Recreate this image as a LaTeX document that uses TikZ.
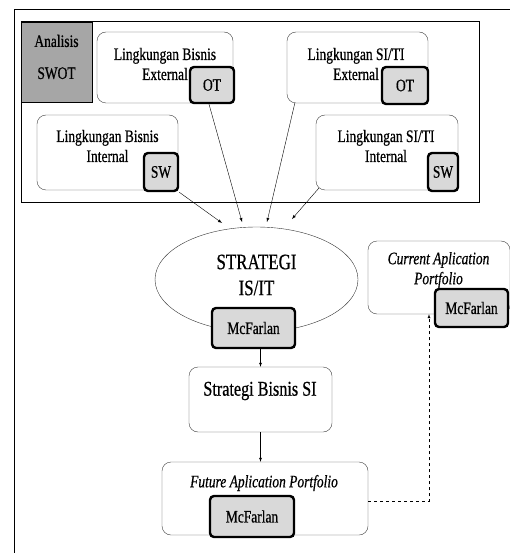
\documentclass[tikz,border=0pt]{standalone}
\usepackage{fontspec}
\setmainfont{Liberation Serif}[FakeStretch=0.77,FakeBold=0.6]
\usetikzlibrary{shapes.geometric}

\begin{document}
\begin{tikzpicture}[x=1pt,y=-1pt]
\useasboundingbox (0,0) rectangle (510,553);
%%%%%%%%%%%%%%%%%%%%%%%%%%%%%%%%%%%%%%%%%%%%%%%%%%%%%%%%%%%%%%
%FRAME/BACKGROUND
\coordinate (frameBot) at (14,553);
\coordinate (frameCorner) at (14,10);
\coordinate (frameRight) at (510,10);
\draw[line width=1pt] (frameBot) -- (frameCorner) -- (frameRight);

%%%%%%%%%%%%%%%%%%%%%%%%%%%%%%%%%%%%%%%%%%%%%%%%%%%%%%%%%%%%%%
%vertex
%vars
\tikzstyle{env}=[draw=black!75,rounded corners=9pt,fill=white,inner sep=0pt]
\tikzstyle{tag}=[draw,line width=2.4pt,rounded corners=4pt,fill=black!15,inner sep=0pt,font=\fontsize{17.5}{20}\selectfont]
\tikzstyle{txt}=[align=center,inner sep=0pt,font=\fontsize{17.5}{20}\selectfont]

%SWOT
\node[draw,line width=1pt,minimum width=458pt,minimum height=180pt,inner sep=0pt] (swot) at (250,112) {};
\node[draw,fill=black!35,minimum width=71pt,minimum height=80pt,inner sep=0pt] (analisis) at (56.5,62) {};
\node[txt,font=\fontsize{17.5}{32}\selectfont] (analisisText) at (56.5,57) {Analisis\\SWOT};

%bisnis external
\node[env,minimum width=136pt,minimum height=71pt] (extBisnis) at (165,67.5) {};
\node[txt] (extBisnisText) at (165,64) {Lingkungan Bisnis\\External};
\node[tag,minimum width=44pt,minimum height=36pt] (OT1) at (212,85) {OT};
%siti external
\node[env,minimum width=141pt,minimum height=71pt] (extSITI) at (357.5,67.5) {};
\node[txt] (extSITIText) at (356,64) {Lingkungan SI/TI\\External};
\node[tag,minimum width=46pt,minimum height=37pt] (OT2) at (405,85.5) {OT};
%bisnis internal
\node[env,minimum width=141pt,minimum height=75pt] (intBisnis) at (107.5,152.5) {};
\node[txt] (intBisnisText) at (107.5,146) {Lingkungan Bisnis\\Internal};
\node[tag,minimum width=34pt,minimum height=38pt] (SW1) at (161,172) {SW};
%siti internal
\node[env,minimum width=142pt,minimum height=75pt] (intSITI) at (387,152.5) {};
\node[txt] (intSITIText) at (386,146) {Lingkungan SI/TI\\Internal};
\node[tag,minimum width=30pt,minimum height=38pt] (SW2) at (443,172) {SW};

%strategi
\node[draw=black!80,ellipse,fill=white,minimum width=203pt,minimum height=105pt,inner sep=0pt] (strategi) at (256.5,279.5) {};
\node[txt,font=\fontsize{22}{26}\selectfont] (strategiText) at (256.5,275) {STRATEGI\\IS/IT};
\node[tag,minimum width=83pt,minimum height=40pt] (McF1) at (253.5,328) {McFarlan};

%bisnis SI
\node[env,minimum width=143pt,minimum height=65pt] (bisnisSI) at (260.5,399.5) {};
\node[txt,font=\fontsize{21}{24}\selectfont] (bisnisSIText) at (260,391) {Strategi Bisnis SI};

%future
\node[env,minimum width=206pt,minimum height=73pt] (future) at (265,498.5) {};
\node[txt,font=\fontsize{17.5}{20}\selectfont\itshape] (futureText) at (264,483) {Future Aplication Portfolio};
\node[tag,minimum width=84pt,minimum height=41pt] (McF3) at (252,516.5) {McFarlan};

%current
\node[env,minimum width=142pt,minimum height=73pt] (current) at (439,277.5) {};
\node[txt,font=\fontsize{17.5}{20}\selectfont\itshape] (currentText) at (438.5,270) {Current Aplication\\Portfolio};
\node[tag,minimum width=73pt,minimum height=38pt] (McF2) at (471.5,308) {McFarlan};

%in
\coordinate (in1) at (222,223);
\coordinate (in2) at (242,222);
\coordinate (in3) at (267,222);
\coordinate (in4) at (292,219);

%%%%%%%%%%%%%%%%%%%%%%%%%%%%%%%%%%%%%%%%%%%%%%%%%%%%%%%%%%%%%%
%ARROWS
\draw[->,>=latex] (SW1.south east) -- (in1);
\draw[->,>=latex] ([xshift=-3pt]OT1.south) -- (in2);
\draw[->,>=latex] ([xshift=8pt]extSITI.south west) -- (in3);
\draw[->,>=latex] ([xshift=3pt,yshift=2pt]intSITI.south west) -- (in4);

\draw[->,>=latex] (McF1.south -| bisnisSI.north) -- (bisnisSI.north);
\draw[->,>=latex] (bisnisSI.south) -- (bisnisSI.south |- future.north);

\draw[->,>=latex,dashed] ([yshift=-3pt]future.east) -| ([xshift=-10pt]current.south);
\end{tikzpicture}
\end{document}
